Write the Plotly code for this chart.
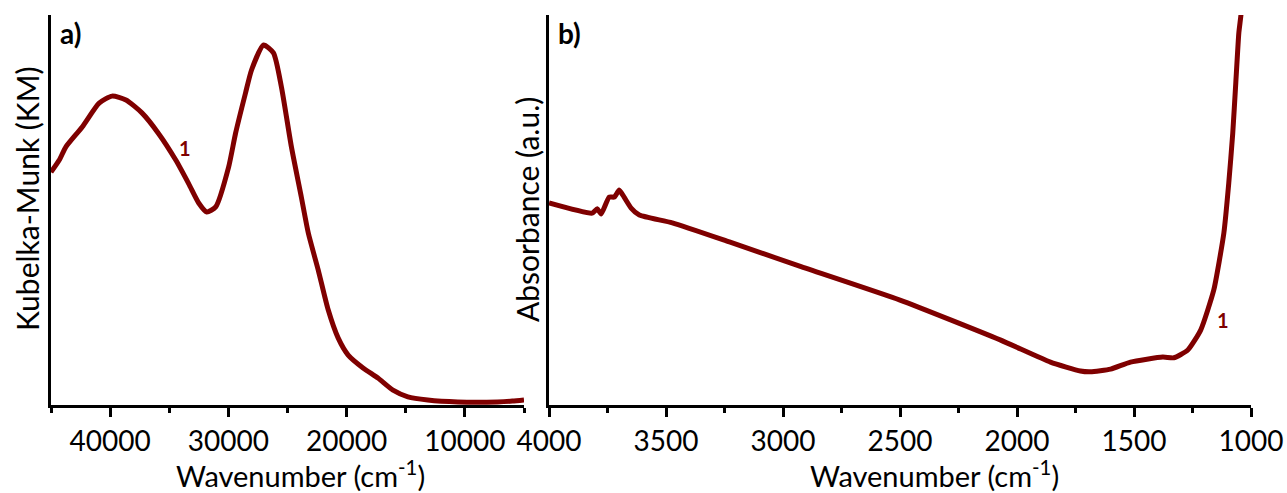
import plotly.graph_objects as go

# Panel a) diffuse reflectance UV-Vis (Kubelka-Munk)
uv_wavenumber = [45000, 44300, 43740, 42360, 40930, 39840, 38660, 37310, 35880,
                 34450, 33350, 32510, 31830, 31070, 29980, 29390, 28550,
                 28040, 27030, 26190, 25510, 24670, 23830, 23240, 22400, 21560, 20720,
                 19870, 18610, 17350, 16080, 14820, 13140, 10600, 7240, 5980, 5000]
uv_km = [0.597, 0.628, 0.662, 0.713, 0.774, 0.792, 0.782, 0.749, 0.695,
         0.628, 0.567, 0.518, 0.495, 0.508, 0.610, 0.697, 0.800,
         0.859, 0.923, 0.903, 0.815, 0.662, 0.533, 0.441, 0.346, 0.244, 0.172,
         0.128, 0.095, 0.069, 0.038, 0.021, 0.013, 0.008, 0.008, 0.010, 0.013]

# Panel b) IR absorbance
ir_wavenumber = [4000, 3816, 3794, 3777, 3743, 3721, 3700, 3679, 3649, 3614,
                 3473, 3229, 2929, 2500, 2072, 1857, 1729, 1686, 1600, 1515,
                 1377, 1330, 1270, 1215, 1159, 1116, 1095, 1078, 1065, 1052,
                 1043, 1036]
ir_abs = [0.518, 0.492, 0.503, 0.490, 0.533, 0.533, 0.551, 0.533, 0.505, 0.487,
          0.467, 0.418, 0.356, 0.269, 0.167, 0.110, 0.087, 0.085, 0.092, 0.110,
          0.123, 0.121, 0.141, 0.192, 0.295, 0.441, 0.569, 0.697, 0.826, 0.954,
          1.000, 1.060]

uv_ticks = [40000, 30000, 20000, 10000]
ir_ticks = [4000, 3500, 3000, 2500, 2000, 1500, 1000]

LINE = "#7f0000"
FONT = "Lato"
W, H = 1287, 493

fig = go.Figure()
fig.add_trace(go.Scatter(x=uv_wavenumber, y=uv_km, mode="lines",
                         line=dict(color=LINE, width=5, shape="spline", smoothing=0.6),
                         xaxis="x", yaxis="y", showlegend=False))
fig.add_trace(go.Scatter(x=ir_wavenumber, y=ir_abs, mode="lines",
                         line=dict(color=LINE, width=5, shape="spline", smoothing=0.5),
                         xaxis="x2", yaxis="y2", showlegend=False))

ydom = [(H - 405) / H, (H - 15) / H]
axcommon = dict(showline=True, linewidth=3, linecolor="black", showgrid=False,
                zeroline=False, ticks="outside", ticklen=9, tickwidth=3, tickcolor="black",
                automargin=False,
                tickfont=dict(family=FONT, size=28, color="black"))
ycommon = dict(domain=ydom, range=[0, 1], showline=True, linewidth=3, linecolor="black",
               showgrid=False, zeroline=False, showticklabels=False, ticks="",
               automargin=False)
fig.update_layout(
    width=W, height=H, margin=dict(l=0, r=0, t=0, b=0, autoexpand=False),
    plot_bgcolor="white", paper_bgcolor="white",
    xaxis=dict(domain=[51 / W, 524 / W], range=[45000, 5000], tickmode="array",
               tickvals=uv_ticks, ticktext=[str(v) for v in uv_ticks],
               minor=dict(ticks="outside", ticklen=5, tickwidth=3, tickcolor="black",
                          tick0=5000, dtick=5000),
               anchor="y", **axcommon),
    yaxis=dict(anchor="x", **ycommon),
    xaxis2=dict(domain=[549 / W, 1251 / W], range=[4000, 1000], tickmode="array",
                tickvals=ir_ticks, ticktext=[str(v) for v in ir_ticks],
                minor=dict(ticks="outside", ticklen=5, tickwidth=3, tickcolor="black",
                           tick0=1000, dtick=250),
                anchor="y2", **axcommon),
    yaxis2=dict(anchor="x2", **ycommon),
)

tfont = dict(family=FONT, size=30, color="black")
xtfont = dict(family=FONT, size=29, color="black")
ann = [
    dict(text="Kubelka-Munk (KM)", x=27 / W, y=(H - 199) / H, textangle=-90, font=tfont),
    dict(text="Absorbance (a.u.)", x=527 / W, y=(H - 210) / H, textangle=-90, font=tfont),
    dict(text="Wavenumber (cm<sup>-1</sup>)", x=300 / W, y=(H - 474) / H, font=xtfont),
    dict(text="Wavenumber (cm<sup>-1</sup>)", x=934 / W, y=(H - 474) / H, font=xtfont),
    dict(text="<b>a)</b>", x=70 / W, y=(H - 33) / H, font=dict(family=FONT, size=28, color="black")),
    dict(text="<b>b)</b>", x=569 / W, y=(H - 33) / H, font=dict(family=FONT, size=28, color="black")),
]
for a in ann:
    fig.add_annotation(xref="paper", yref="paper", showarrow=False, borderpad=0,
                       xanchor="center", yanchor="middle", **a)

fig.add_annotation(x=33685, y=0.659, xref="x", yref="y", text="<b>1</b>", showarrow=False,
                   font=dict(family=FONT, size=20, color=LINE))
fig.add_annotation(x=1120, y=0.218, xref="x2", yref="y2", text="<b>1</b>", showarrow=False,
                   font=dict(family=FONT, size=20, color=LINE))

fig.write_html("out.html", config={"displayModeBar": False},
               post_script="document.body.style.margin='0';document.body.style.overflow='hidden';")
